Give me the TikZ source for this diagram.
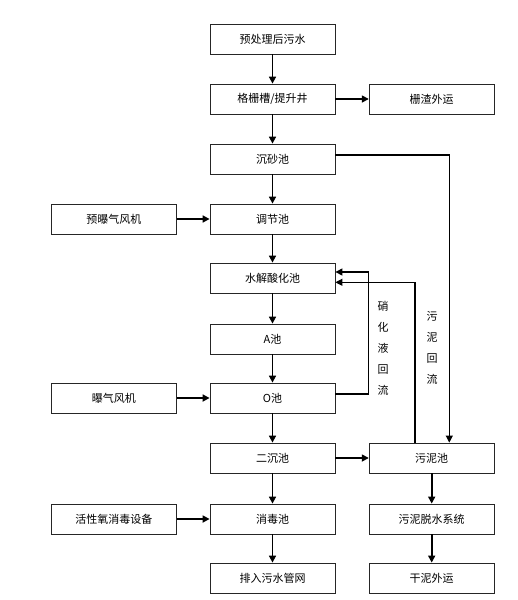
\documentclass[tikz,border=0pt]{standalone}
\usepackage{fontspec}
\setmainfont{Noto Sans CJK SC}
\usetikzlibrary{arrows.meta}

\tikzset{
  box/.style={draw=black!85,line width=0.8pt,minimum width=125pt,minimum height=30pt,inner sep=0pt,font=\fontsize{11}{13}\selectfont},
  flow/.style={line width=1.6pt,-{Triangle[length=7pt,width=7pt]}},
  back/.style={line width=1.1pt,-{Triangle[length=7pt,width=7pt]}},
  vlabel/.style={align=center,inner sep=0pt,font=\fontsize{11}{21}\selectfont}
}

\begin{document}
\begin{tikzpicture}[x=1pt,y=-1pt]
\useasboundingbox[fill=white] (0,0) rectangle (517,600);

\node[box] (pre) at (272.5,39) {预处理后污水};
\node[box] (grid) at (272.5,99) {格栅槽/提升井};
\node[box] (zha) at (431.7,99) {栅渣外运};
\node[box] (sand) at (272.5,159) {沉砂池};
\node[box] (preair) at (113.8,219) {预曝气风机};
\node[box] (tiao) at (272.5,219) {调节池};
\node[box] (hydro) at (272.5,278) {水解酸化池};
\node[box] (apool) at (272.5,339) {A池};
\node[box] (air) at (113.8,398) {曝气风机};
\node[box] (opool) at (272.5,398) {O池};
\node[box] (sec) at (272.5,458) {二沉池};
\node[box] (sludge) at (431.7,458) {污泥池};
\node[box] (oxy) at (113.8,519) {活性氧消毒设备};
\node[box] (dis) at (272.5,519) {消毒池};
\node[box] (dewater) at (431.7,519) {污泥脱水系统};
\node[box] (out) at (272.5,578) {排入污水管网};
\node[box] (dry) at (431.7,578) {干泥外运};

\draw[flow] (pre) -- (grid);
\draw[flow] (grid) -- (sand);
\draw[flow] (grid) -- (zha);
\draw[flow] (sand) -- (tiao);
\draw[flow] (tiao) -- (hydro);
\draw[flow] (hydro) -- (apool);
\draw[flow] (apool) -- (opool);
\draw[flow] (opool) -- (sec);
\draw[flow] (sec) -- (dis);
\draw[flow] (dis) -- (out);
\draw[flow] (sec) -- (sludge);
\draw[flow] (sludge) -- (dewater);
\draw[flow] (dewater) -- (dry);
\draw[flow] (preair) -- (tiao);
\draw[flow] (air) -- (opool);
\draw[flow] (oxy) -- (dis);

\draw[back] ([yshift=4]sand.east) -| ([xshift=17.6]sludge.north);
\draw[back] ([yshift=4]opool.east) -| ([yshift=6]sludge.west |- hydro.east) -- ([yshift=6]hydro.east);
\draw[back] ([xshift=-16.7]sludge.north) |- ([yshift=-4.3]hydro.east);

\node[vlabel] (nitro) at (383,348) {硝\\化\\液\\回\\流};
\node[vlabel] (ret) at (432,348) {污\\泥\\回\\流};
\end{tikzpicture}
\end{document}
